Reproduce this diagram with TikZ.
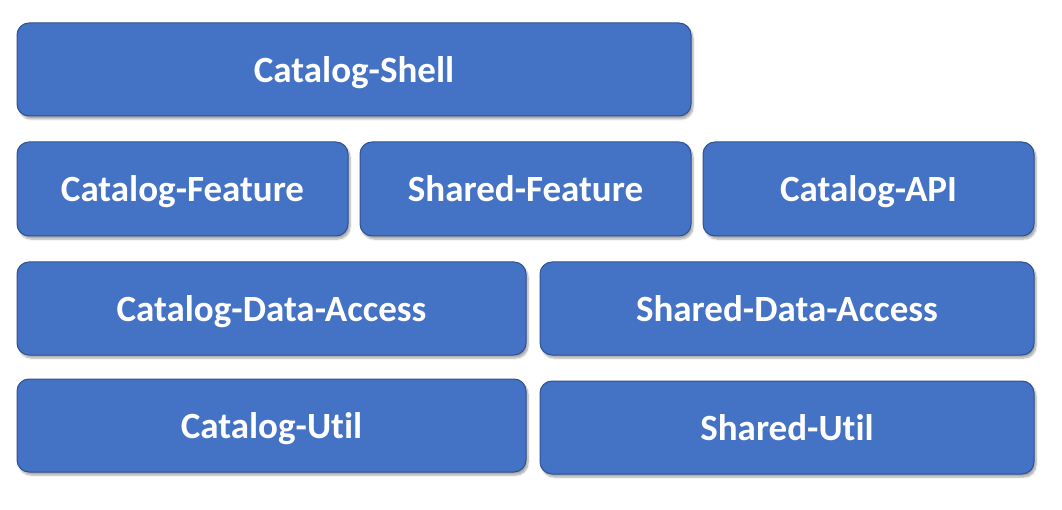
\documentclass[tikz,border=0pt]{standalone}
\usepackage{fontspec}
\setmainfont[Ligatures=NoCommon]{Carlito}
\usetikzlibrary{shadows.blur}
\definecolor{boxfill}{HTML}{4472C4}
\definecolor{boxline}{HTML}{2F528F}
\tikzset{
  layerbox/.style={draw=boxline, line width=1pt, fill=boxfill, rounded corners=12pt,
    blur shadow={shadow xshift=2pt, shadow yshift=-3pt, shadow blur steps=6, shadow opacity=35},
    text=white, font=\bfseries\fontsize{37}{44}\selectfont, inner sep=0pt,
    text height=33pt, text depth=7pt}
}
\begin{document}
\begin{tikzpicture}[x=1pt,y=-1pt]
\useasboundingbox (0,0) rectangle (1062,510);
\newcommand\layer[6]{%
  \node[layerbox, minimum width=#4-#2, minimum height=#5-#3] (#1) at ({(#2+#4)/2},{(#3+#5)/2}) {#6};}
\layer{shell}{17}{23}{691}{116}{Catalog-Shell}
\layer{cfeat}{17}{142}{348}{236}{Catalog-Feature}
\layer{sfeat}{360}{142}{691}{236}{Shared-Feature}
\layer{capi}{703}{142}{1034}{236}{Catalog-API}
\layer{cda}{17}{262}{526}{355}{Catalog-Data-Access}
\layer{sda}{540}{262}{1034}{355}{Shared-Data-Access}
\layer{cutil}{17}{379}{526}{472}{Catalog-Util}
\layer{sutil}{540}{381}{1034}{474}{Shared-Util}
\end{tikzpicture}
\end{document}
